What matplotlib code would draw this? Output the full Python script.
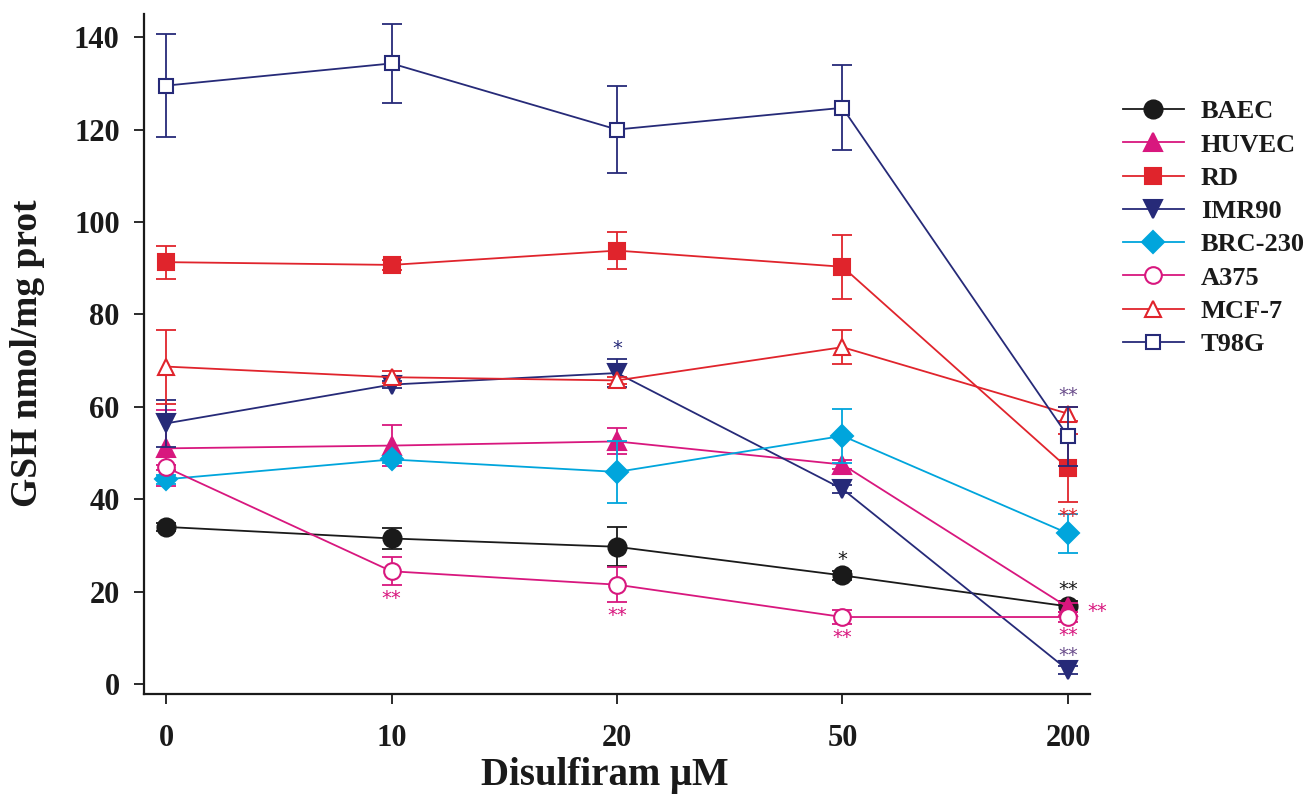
import matplotlib as mpl

mpl.use("Agg")
mpl.rcParams.update({
    "font.family": ["Liberation Serif", "DejaVu Serif"],
    "font.weight": "bold",
})
import matplotlib.pyplot as plt


# ---- data (GSH nmol/mg prot, mean and SE) ----
doses = ["0", "10", "20", "50", "200"]

baec = [34.0, 31.5, 29.7, 23.5, 16.8]
baec_err = [0.8, 2.2, 4.2, 1.0, 1.2]
huvec = [51.0, 51.6, 52.5, 47.5, 16.6]
huvec_err = [8.2, 4.4, 2.8, 1.0, 1.0]
rd = [91.3, 90.7, 93.8, 90.3, 46.7]
rd_err = [3.6, 1.0, 4.0, 6.9, 7.4]
imr90 = [56.4, 64.8, 67.3, 42.2, 3.0]
imr90_err = [5.0, 0.8, 3.0, 0.8, 0.8]
brc230 = [44.3, 48.6, 45.9, 53.7, 32.6]
brc230_err = [1.0, 0.8, 6.7, 5.8, 4.3]
a375 = [46.9, 24.4, 21.5, 14.5, 14.5]
a375_err = [0.5, 3.0, 3.8, 1.5, 1.0]
mcf7 = [68.7, 66.4, 65.7, 72.9, 58.5]
mcf7_err = [8.0, 1.3, 0.8, 3.7, 1.5]
t98g = [129.5, 134.3, 120.0, 124.7, 53.6]
t98g_err = [11.2, 8.6, 9.4, 9.2, 6.4]

# significance marks: (series, dose index, where, text)
marks = [
    ("IMR90", 2, "above", "*"),
    ("BAEC", 3, "above", "*"),
    ("BAEC", 4, "above", "**"),
    ("A375", 1, "below", "**"),
    ("A375", 2, "below", "**"),
    ("A375", 3, "below", "**"),
    ("A375", 4, "below", "**"),
    ("HUVEC", 4, "right", "**"),
    ("RD", 4, "below", "**"),
    ("T98G", 4, "above", "**"),
    ("IMR90", 4, "above", "**"),
]

BLACK = "#1a1a1a"
MAGENTA = "#d8177e"
RED = "#e0242c"
NAVY = "#262a78"
CYAN = "#00a5dc"
PURPLE = "#6b4e8c"

series = [
    ("BAEC", baec, baec_err, BLACK, "o", True, 13),
    ("HUVEC", huvec, huvec_err, MAGENTA, "^", True, 13),
    ("RD", rd, rd_err, RED, "s", True, 12),
    ("IMR90", imr90, imr90_err, NAVY, "v", True, 13),
    ("BRC-230", brc230, brc230_err, CYAN, "D", True, 11),
    ("A375", a375, a375_err, MAGENTA, "o", False, 12),
    ("MCF-7", mcf7, mcf7_err, RED, "^", False, 12),
    ("T98G", t98g, t98g_err, NAVY, "s", False, 10),
]
mark_colors = {"IMR90": NAVY, "T98G": PURPLE, "BAEC": BLACK, "A375": MAGENTA,
               "HUVEC": MAGENTA, "RD": RED}
mark_colors_200 = {"IMR90": PURPLE}


def main():
    fig = plt.figure(figsize=(13.08, 7.98), dpi=100)
    ax = fig.add_axes([144 / 1308, 104 / 798, 946 / 1308, 680 / 798])

    x = list(range(len(doses)))
    lookup = {}
    handles = []
    for name, vals, errs, color, marker, filled, ms in series:
        lookup[name] = (vals, errs)
        ax.errorbar(x, vals, yerr=errs, fmt="none", ecolor=color,
                    elinewidth=1.3, capsize=7, capthick=1.3)
        (ln,) = ax.plot(
            x, vals, color=color, lw=1.3, marker=marker, markersize=ms,
            markerfacecolor=color if filled else "white",
            markeredgecolor=color, markeredgewidth=1.5, label=name,
        )
        handles.append(ln)

    for name, i, where, text in marks:
        vals, errs = lookup[name]
        color = mark_colors_200.get(name, mark_colors[name]) if i == 4 else mark_colors[name]
        if where == "above":
            xy, off, va, ha = (i, vals[i] + errs[i]), (0, 1), "bottom", "center"
        elif where == "below":
            xy, off, va, ha = (i, vals[i] - errs[i]), (0, -3), "top", "center"
        else:
            xy, off, va, ha = (i, vals[i]), (14, -3), "center", "left"
        ax.annotate(text, xy=xy, xytext=off, textcoords="offset points",
                    ha=ha, va=va, fontsize=14, fontweight="normal",
                    color=color, family="DejaVu Sans")

    ax.set_xlim(-0.0976, 4.0976)
    ax.set_ylim(-2.16, 145.0)
    ax.set_xticks(x)
    ax.set_xticklabels(doses)
    ax.set_yticks(range(0, 141, 20))
    for side in ("top", "right"):
        ax.spines[side].set_visible(False)
    for side in ("left", "bottom"):
        ax.spines[side].set_linewidth(1.6)
        ax.spines[side].set_color(BLACK)
    ax.tick_params(axis="both", direction="out", length=7.5, width=1.3,
                   labelsize=22, color=BLACK, labelcolor=BLACK)
    ax.tick_params(axis="y", pad=10)
    ax.tick_params(axis="x", pad=14)

    fig.text(605 / 1308, 1 - 775 / 798, "Disulfiram \u03bcM", ha="center",
             va="center", fontsize=28, fontweight="bold", color=BLACK)
    fig.text(28 / 1308, 1 - 353 / 798, "GSH nmol/mg prot", ha="center",
             va="center", rotation=90, fontsize=27, fontweight="bold", color=BLACK)

    leg = fig.legend(
        handles=handles, loc="upper left",
        bbox_to_anchor=(1123 / 1308, 1 - 100 / 798),
        frameon=False, fontsize=19, handlelength=2.3, handletextpad=0.65,
        labelspacing=0.37, borderpad=0, borderaxespad=0,
    )
    for t in leg.get_texts():
        t.set_color(BLACK)

    fig.savefig("out.png", dpi=100)
    plt.close(fig)


if __name__ == "__main__":
    main()
